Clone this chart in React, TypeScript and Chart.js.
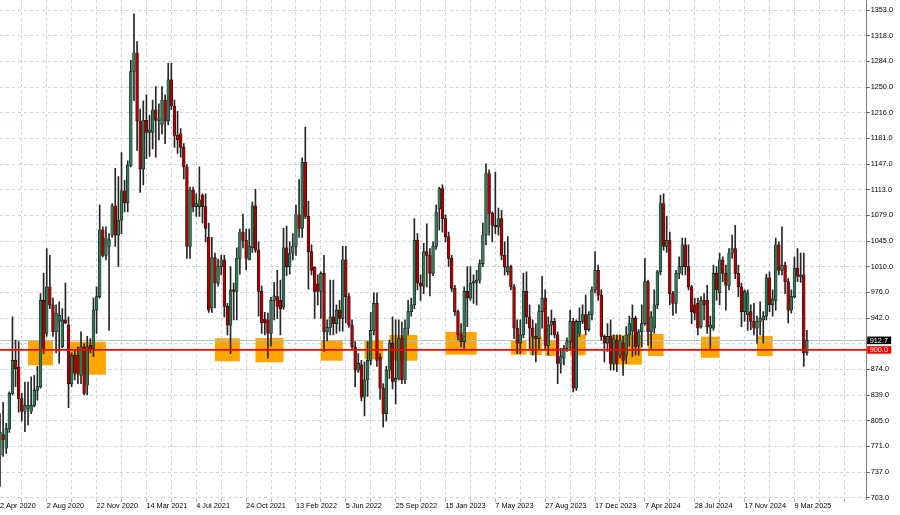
import React, { useEffect, useRef } from "react";
import { Chart, registerables } from "chart.js";
Chart.register(...registerables);

// Weekly OHLC, bar index 0..259
const opens = [
  760, 787, 769, 795, 842, 886, 877, 835, 818, 822,
  818, 826, 846, 851, 966, 922, 984, 960, 924, 938,
  904, 940, 933, 855, 893, 893, 866, 904, 853, 906,
  902, 953, 971, 1060, 1026, 1038, 1053, 1092, 1053, 1073,
  1112, 1096, 1146, 1271, 1296, 1205, 1141, 1206, 1190, 1190,
  1220, 1206, 1200, 1233, 1205, 1260, 1225, 1186, 1188, 1170,
  1144, 1038, 1113, 1091, 1091, 1106, 1091, 1050, 956, 1023,
  989, 1011, 1020, 958, 933, 980, 978, 1022, 1057, 1046,
  1020, 1036, 1092, 1033, 978, 941, 940, 922, 966, 971,
  966, 957, 1036, 1011, 1029, 1038, 1080, 1062, 1150, 1078,
  1031, 1010, 988, 978, 1002, 924, 930, 944, 935, 953,
  942, 1020, 971, 933, 904, 873, 880, 837, 860, 886,
  926, 962, 890, 849, 815, 873, 909, 858, 862, 915,
  860, 929, 951, 960, 1046, 989, 985, 1031, 1026, 1002,
  1038, 1088, 1115, 1075, 1051, 1022, 982, 951, 920, 911,
  978, 969, 989, 990, 993, 1015, 1053, 1135, 1082, 1066,
  1064, 1075, 1026, 1004, 1011, 984, 929, 909, 920, 978,
  944, 929, 918, 915, 951, 969, 906, 933, 938, 920,
  882, 889, 902, 911, 938, 849, 922, 938, 947, 927,
  947, 980, 1006, 973, 918, 909, 918, 882, 913, 893,
  909, 893, 920, 925, 942, 906, 924, 935, 991, 924,
  929, 960, 1004, 1095, 1038, 1046, 975, 962, 1002, 1011,
  1040, 1011, 984, 960, 962, 931, 966, 966, 929, 929,
  1002, 976, 1020, 1002, 986, 1029, 1035, 1002, 984, 951,
  947, 951, 938, 929, 938, 940, 945, 996, 960, 966,
  1040, 1006, 1013, 991, 953, 971, 1009, 998, 1000, 896,
];
const highs = [
  815, 830, 802, 844, 944, 913, 911, 842, 857, 857,
  864, 866, 878, 975, 1002, 1035, 1026, 969, 960, 964,
  955, 989, 944, 896, 900, 904, 924, 908, 918, 915,
  969, 984, 1093, 1064, 1064, 1055, 1095, 1142, 1131, 1163,
  1126, 1152, 1286, 1348, 1311, 1221, 1232, 1240, 1213, 1233,
  1251, 1228, 1251, 1240, 1282, 1282, 1233, 1218, 1195, 1175,
  1147, 1117, 1117, 1108, 1144, 1108, 1108, 1069, 1050, 1029,
  1021, 1026, 1026, 962, 1011, 989, 1036, 1061, 1081, 1061,
  1061, 1097, 1114, 1044, 985, 950, 949, 970, 990, 1006,
  993, 1062, 1065, 1044, 1055, 1093, 1127, 1156, 1197, 1098,
  1040, 1011, 1000, 1004, 1026, 940, 993, 993, 960, 966,
  1038, 1038, 975, 940, 911, 895, 886, 884, 911, 950,
  976, 976, 895, 855, 878, 913, 944, 940, 940, 937,
  940, 966, 969, 1075, 1055, 1000, 1042, 1068, 1035, 1044,
  1093, 1117, 1120, 1080, 1057, 1026, 986, 953, 935, 984,
  1011, 1011, 1000, 1006, 1020, 1069, 1148, 1140, 1084, 1137,
  1089, 1086, 1044, 1051, 1013, 987, 940, 940, 1002, 1004,
  960, 940, 935, 960, 998, 980, 944, 953, 942, 924,
  902, 906, 916, 953, 942, 940, 956, 960, 973, 951,
  984, 1031, 1013, 980, 920, 935, 940, 920, 920, 920,
  918, 931, 945, 960, 945, 927, 960, 1022, 993, 951,
  980, 1006, 1106, 1108, 1078, 1057, 978, 1006, 1024, 1049,
  1049, 1040, 986, 969, 969, 971, 975, 986, 945, 1013,
  1011, 1029, 1024, 1013, 1035, 1053, 1066, 1013, 989, 980,
  980, 960, 962, 945, 964, 951, 1001, 1004, 980, 1049,
  1044, 1064, 1017, 995, 980, 1024, 1035, 1029, 1029, 926,
];
const lows = [
  718, 758, 762, 790, 840, 851, 817, 805, 791, 800,
  815, 824, 833, 849, 895, 918, 955, 918, 896, 882,
  903, 935, 823, 851, 860, 855, 855, 840, 840, 896,
  891, 922, 969, 1024, 1020, 926, 1050, 1038, 1011, 1055,
  1084, 1084, 1144, 1232, 1166, 1110, 1120, 1155, 1158, 1168,
  1157, 1180, 1188, 1175, 1200, 1220, 1170, 1162, 1157, 1128,
  1022, 1022, 1084, 1078, 1078, 1069, 1044, 950, 950, 956,
  985, 1000, 944, 920, 895, 940, 940, 1001, 1036, 1007,
  1020, 1030, 1030, 945, 922, 920, 889, 905, 940, 942,
  920, 954, 999, 1001, 1020, 1026, 1050, 1050, 1075, 981,
  1000, 942, 960, 942, 898, 912, 920, 920, 922, 925,
  925, 936, 930, 900, 851, 870, 832, 812, 838, 880,
  920, 878, 834, 797, 805, 862, 848, 828, 860, 855,
  855, 920, 945, 955, 980, 966, 975, 984, 972, 999,
  1034, 1060, 1057, 1044, 1011, 978, 946, 913, 904, 902,
  931, 966, 962, 960, 989, 1011, 1040, 1053, 1044, 1055,
  1053, 1020, 1000, 1000, 980, 915, 895, 895, 916, 935,
  900, 893, 884, 900, 929, 900, 893, 920, 916, 855,
  869, 880, 898, 900, 844, 846, 918, 935, 920, 925,
  940, 976, 966, 913, 884, 898, 873, 873, 871, 889,
  866, 882, 905, 891, 893, 893, 904, 933, 906, 902,
  922, 955, 1000, 1033, 1030, 960, 946, 949, 995, 1000,
  1000, 980, 935, 940, 920, 929, 940, 922, 902, 926,
  966, 960, 991, 953, 980, 1022, 995, 971, 931, 938,
  926, 927, 920, 909, 920, 909, 940, 951, 945, 953,
  1000, 1000, 975, 936, 949, 969, 991, 990, 878, 893,
];
const closes = [
  790, 780, 795, 842, 886, 875, 835, 818, 826, 826,
  826, 846, 851, 966, 902, 984, 960, 924, 949, 946,
  940, 936, 855, 893, 869, 869, 904, 842, 904, 900,
  953, 971, 1060, 1026, 1049, 1047, 1092, 1053, 1073, 1112,
  1096, 1146, 1271, 1296, 1205, 1141, 1206, 1190, 1193, 1220,
  1206, 1208, 1233, 1205, 1260, 1225, 1186, 1180, 1170, 1144,
  1038, 1113, 1091, 1095, 1100, 1091, 1062, 953, 1023, 989,
  1011, 1020, 958, 933, 980, 978, 1022, 1057, 1046, 1022,
  1038, 1092, 1033, 978, 936, 936, 922, 966, 972, 958,
  955, 1036, 1011, 1029, 1038, 1080, 1062, 1150, 1078, 1031,
  1006, 978, 978, 1002, 924, 930, 944, 935, 953, 942,
  1020, 971, 933, 904, 873, 882, 837, 860, 886, 926,
  962, 886, 849, 815, 873, 909, 858, 862, 915, 860,
  929, 951, 960, 1046, 989, 985, 1031, 1026, 1002, 1038,
  1084, 1115, 1075, 1051, 1022, 982, 951, 920, 911, 978,
  969, 989, 991, 993, 1015, 1053, 1135, 1082, 1066, 1064,
  1075, 1026, 1011, 1011, 984, 929, 909, 920, 978, 944,
  929, 918, 915, 951, 969, 906, 933, 938, 920, 882,
  891, 902, 911, 938, 849, 938, 938, 947, 927, 947,
  980, 1006, 973, 918, 909, 918, 882, 915, 882, 913,
  886, 920, 935, 942, 904, 924, 935, 991, 924, 944,
  960, 1004, 1095, 1038, 1046, 975, 962, 1002, 1011, 1040,
  1011, 984, 951, 949, 929, 966, 960, 931, 933, 1002,
  980, 1020, 1002, 986, 1029, 1035, 1002, 984, 951, 978,
  976, 938, 929, 938, 942, 945, 996, 960, 968, 1040,
  1006, 1013, 991, 953, 971, 1009, 998, 1000, 896, 912.7,
];

// Date labels on the time axis (bar index -> label)
const xLabelIndex = [0, 15, 31, 47, 63, 79, 95, 111, 127, 143, 159, 175, 191, 207, 223, 239, 255];
const xLabels = [
  "2 Apr 2020", "2 Aug 2020", "22 Nov 2020", "14 Mar 2021", "4 Jul 2021", "24 Oct 2021",
  "13 Feb 2022", "5 Jun 2022", "25 Sep 2022", "15 Jan 2023", "7 May 2023", "27 Aug 2023",
  "17 Dec 2023", "7 Apr 2024", "28 Jul 2024", "17 Nov 2024", "9 Mar 2025",
];
// vertical grid every 8 bars
const xGridIndex = [
  7, 15, 23, 31, 39, 47, 55, 63, 71, 79, 87, 95, 103, 111, 119, 127, 135, 143, 151, 159,
  167, 175, 183, 191, 199, 207, 215, 223, 231, 239, 247, 255, 263, 271,
];

// price axis
const yTickValues = [
  703, 737.21, 771.42, 805.63, 839.84, 874.05, 908.26, 942.47, 976.68, 1010.89,
  1045.1, 1079.31, 1113.52, 1147.73, 1181.94, 1216.15, 1250.36, 1284.57, 1318.78, 1353,
];
const yTickLabels = [
  "703.0", "737.0", "771.0", "805.0", "839.0", "874.0", "", "942.0", "976.0", "1010.0",
  "1045.0", "1079.0", "1113.0", "1147.0", "1181.0", "1216.0", "1250.0", "1284.0", "1318.0", "1353.0",
];

// orange zones (bar index range, price range)
const zoneStart = [9, 22.5, 69, 82, 103, 117, 125, 143, 164, 170, 175, 183, 196, 208, 225, 243];
const zoneEnd = [17, 34, 77, 91, 110, 123, 134, 153, 169, 174, 179, 188, 206, 213, 231, 248];
const zoneHigh = [912.2, 910.9, 915.4, 915.8, 912.2, 912.2, 919.8, 923.8, 912.2, 917.6, 912.2, 920.8, 919.8, 921.2, 917.6, 918.5];
const zoneLow = [879.5, 866.9, 884.8, 883.5, 885.6, 887.5, 885.6, 893.6, 893.6, 893.2, 891.9, 892.8, 880.3, 891.9, 889.6, 891.9];

const bidPrice = 912.7;
const levelPrice = 900.0;

const BULL = "#2f7a55";
const BEAR = "#b00000";
const WICK = "#262626";
const GRID = "#c8d5e8";
const FONT = { family: "'Liberation Sans', Arial, sans-serif", size: 7.3 };

const overlay = {
  id: "overlay",
  beforeDatasetsDraw(chart: any) {
    const { ctx, chartArea, scales } = chart;
    const x = scales.x;
    const y = scales.y;
    ctx.save();
    ctx.beginPath();
    ctx.rect(chartArea.left, chartArea.top, chartArea.right - chartArea.left, chartArea.bottom - chartArea.top);
    ctx.clip();
    ctx.fillStyle = "#ffa500";
    for (let k = 0; k < zoneStart.length; k++) {
      const x1 = x.getPixelForValue(zoneStart[k]);
      const x2 = x.getPixelForValue(zoneEnd[k]);
      const y1 = y.getPixelForValue(zoneHigh[k]);
      const y2 = y.getPixelForValue(zoneLow[k]);
      ctx.fillRect(x1, y1, x2 - x1, y2 - y1);
    }
    const yb = Math.round(y.getPixelForValue(bidPrice)) + 0.5;
    ctx.strokeStyle = "#b0c0d4";
    ctx.lineWidth = 1;
    ctx.beginPath();
    ctx.moveTo(chartArea.left, yb);
    ctx.lineTo(chartArea.right, yb);
    ctx.stroke();
    ctx.restore();
  },
  afterDatasetsDraw(chart: any) {
    const { ctx, chartArea, scales } = chart;
    const y = scales.y;
    const yl = y.getPixelForValue(levelPrice);
    ctx.save();
    ctx.strokeStyle = "#ff0000";
    ctx.lineWidth = 1.8;
    ctx.beginPath();
    ctx.moveTo(chartArea.left, yl);
    ctx.lineTo(chartArea.right, yl);
    ctx.stroke();
    ctx.restore();
  },
  afterDraw(chart: any) {
    const { ctx, chartArea, scales } = chart;
    const y = scales.y;
    const tags = [
      { v: bidPrice, bg: "#000000", text: bidPrice.toFixed(1) },
      { v: levelPrice, bg: "#ff0000", text: levelPrice.toFixed(1) },
    ];
    ctx.save();
    ctx.font = `${FONT.size}px ${FONT.family}`;
    ctx.textBaseline = "middle";
    ctx.textAlign = "left";
    for (const t of tags) {
      const py = y.getPixelForValue(t.v);
      ctx.fillStyle = t.bg;
      ctx.fillRect(chartArea.right + 0.5, py - 3.8, 24, 7.6);
      ctx.fillStyle = "#ffffff";
      ctx.fillText(t.text, chartArea.right + 3, py + 0.3);
    }
    ctx.restore();
  },
};

export default function App() {
  const ref = useRef<HTMLCanvasElement | null>(null);
  useEffect(() => {
    const canvas = ref.current;
    if (!canvas) return;
    const bodies = opens.map((o, i) => ({ x: i, y: [o, closes[i]] }));
    const wicks = lows.map((l, i) => ({ x: i, y: [l, highs[i]] }));
    const bodyColors = opens.map((o, i) => (closes[i] >= o ? BULL : BEAR));
    const chart = new Chart(canvas, {
      type: "bar",
      data: {
        datasets: [
          {
            data: bodies as any,
            backgroundColor: bodyColors,
            borderColor: "#141414",
            borderWidth: 0.6,
            borderSkipped: false,
            barThickness: 2.8,
            minBarLength: 1,
            grouped: false,
          } as any,
          {
            data: wicks as any,
            backgroundColor: WICK,
            borderWidth: 0,
            barThickness: 1,
            grouped: false,
          } as any,
        ],
      },
      options: {
        responsive: false,
        animation: false,
        devicePixelRatio: 1,
        layout: { padding: 0 },
        plugins: { legend: { display: false }, tooltip: { enabled: false } },
        scales: {
          x: {
            type: "linear",
            min: 0,
            max: 278.2,
            offset: false,
            afterBuildTicks: (s: any) => {
              const vals = Array.from(new Set([...xLabelIndex, ...xGridIndex])).sort((a, b) => a - b);
              s.ticks = vals.map((v) => ({ value: v }));
            },
            afterFit: (s: any) => {
              s.height = 16;
              s.paddingLeft = 0;
              s.paddingRight = 0;
              s.paddingTop = 0;
              s.paddingBottom = 0;
            },
            grid: {
              offset: false,
              color: (c: any) => (c.tick && c.tick.value === 0 ? "rgba(0,0,0,0)" : GRID),
              tickColor: (c: any) => (c.tick && c.tick.value === 0 ? "rgba(0,0,0,0)" : "#a8b4c2"),
              lineWidth: 1,
              drawTicks: true,
              tickLength: 3,
            },
            border: { display: false, dash: [3, 3] },
            ticks: {
              autoSkip: false,
              maxRotation: 0,
              minRotation: 0,
              align: "start",
              padding: 0,
              color: "#000",
              font: FONT,
              callback: (v: any) => {
                const k = xLabelIndex.indexOf(Number(v));
                return k >= 0 ? xLabels[k] : "";
              },
            },
          },
          y: {
            type: "linear",
            position: "right",
            min: 701.27,
            max: 1366.33,
            afterBuildTicks: (s: any) => {
              s.ticks = yTickValues.map((v) => ({ value: v }));
            },
            afterFit: (s: any) => {
              s.width = 33.3;
              s.paddingLeft = 0;
              s.paddingRight = 0;
              s.paddingTop = 0;
              s.paddingBottom = 0;
            },
            grid: {
              color: GRID,
              lineWidth: 1,
              drawTicks: true,
              tickLength: 3,
              tickColor: "#555",
            },
            border: { display: true, color: "#7d7d7d", width: 1, dash: [3, 3] },
            ticks: {
              padding: 1,
              color: "#000",
              font: FONT,
              callback: (v: any) => {
                const k = yTickValues.indexOf(Number(v));
                return k >= 0 ? yTickLabels[k] : "";
              },
            },
          },
        },
      },
      plugins: [overlay],
    } as any);
    return () => chart.destroy();
  }, []);
  return (
    <div style={{ position: "absolute", left: 0, top: 0, width: 900, height: 515, background: "#fff" }}>
      <canvas ref={ref} width={900} height={515} style={{ display: "block", width: 900, height: 515 }} />
    </div>
  );
}
